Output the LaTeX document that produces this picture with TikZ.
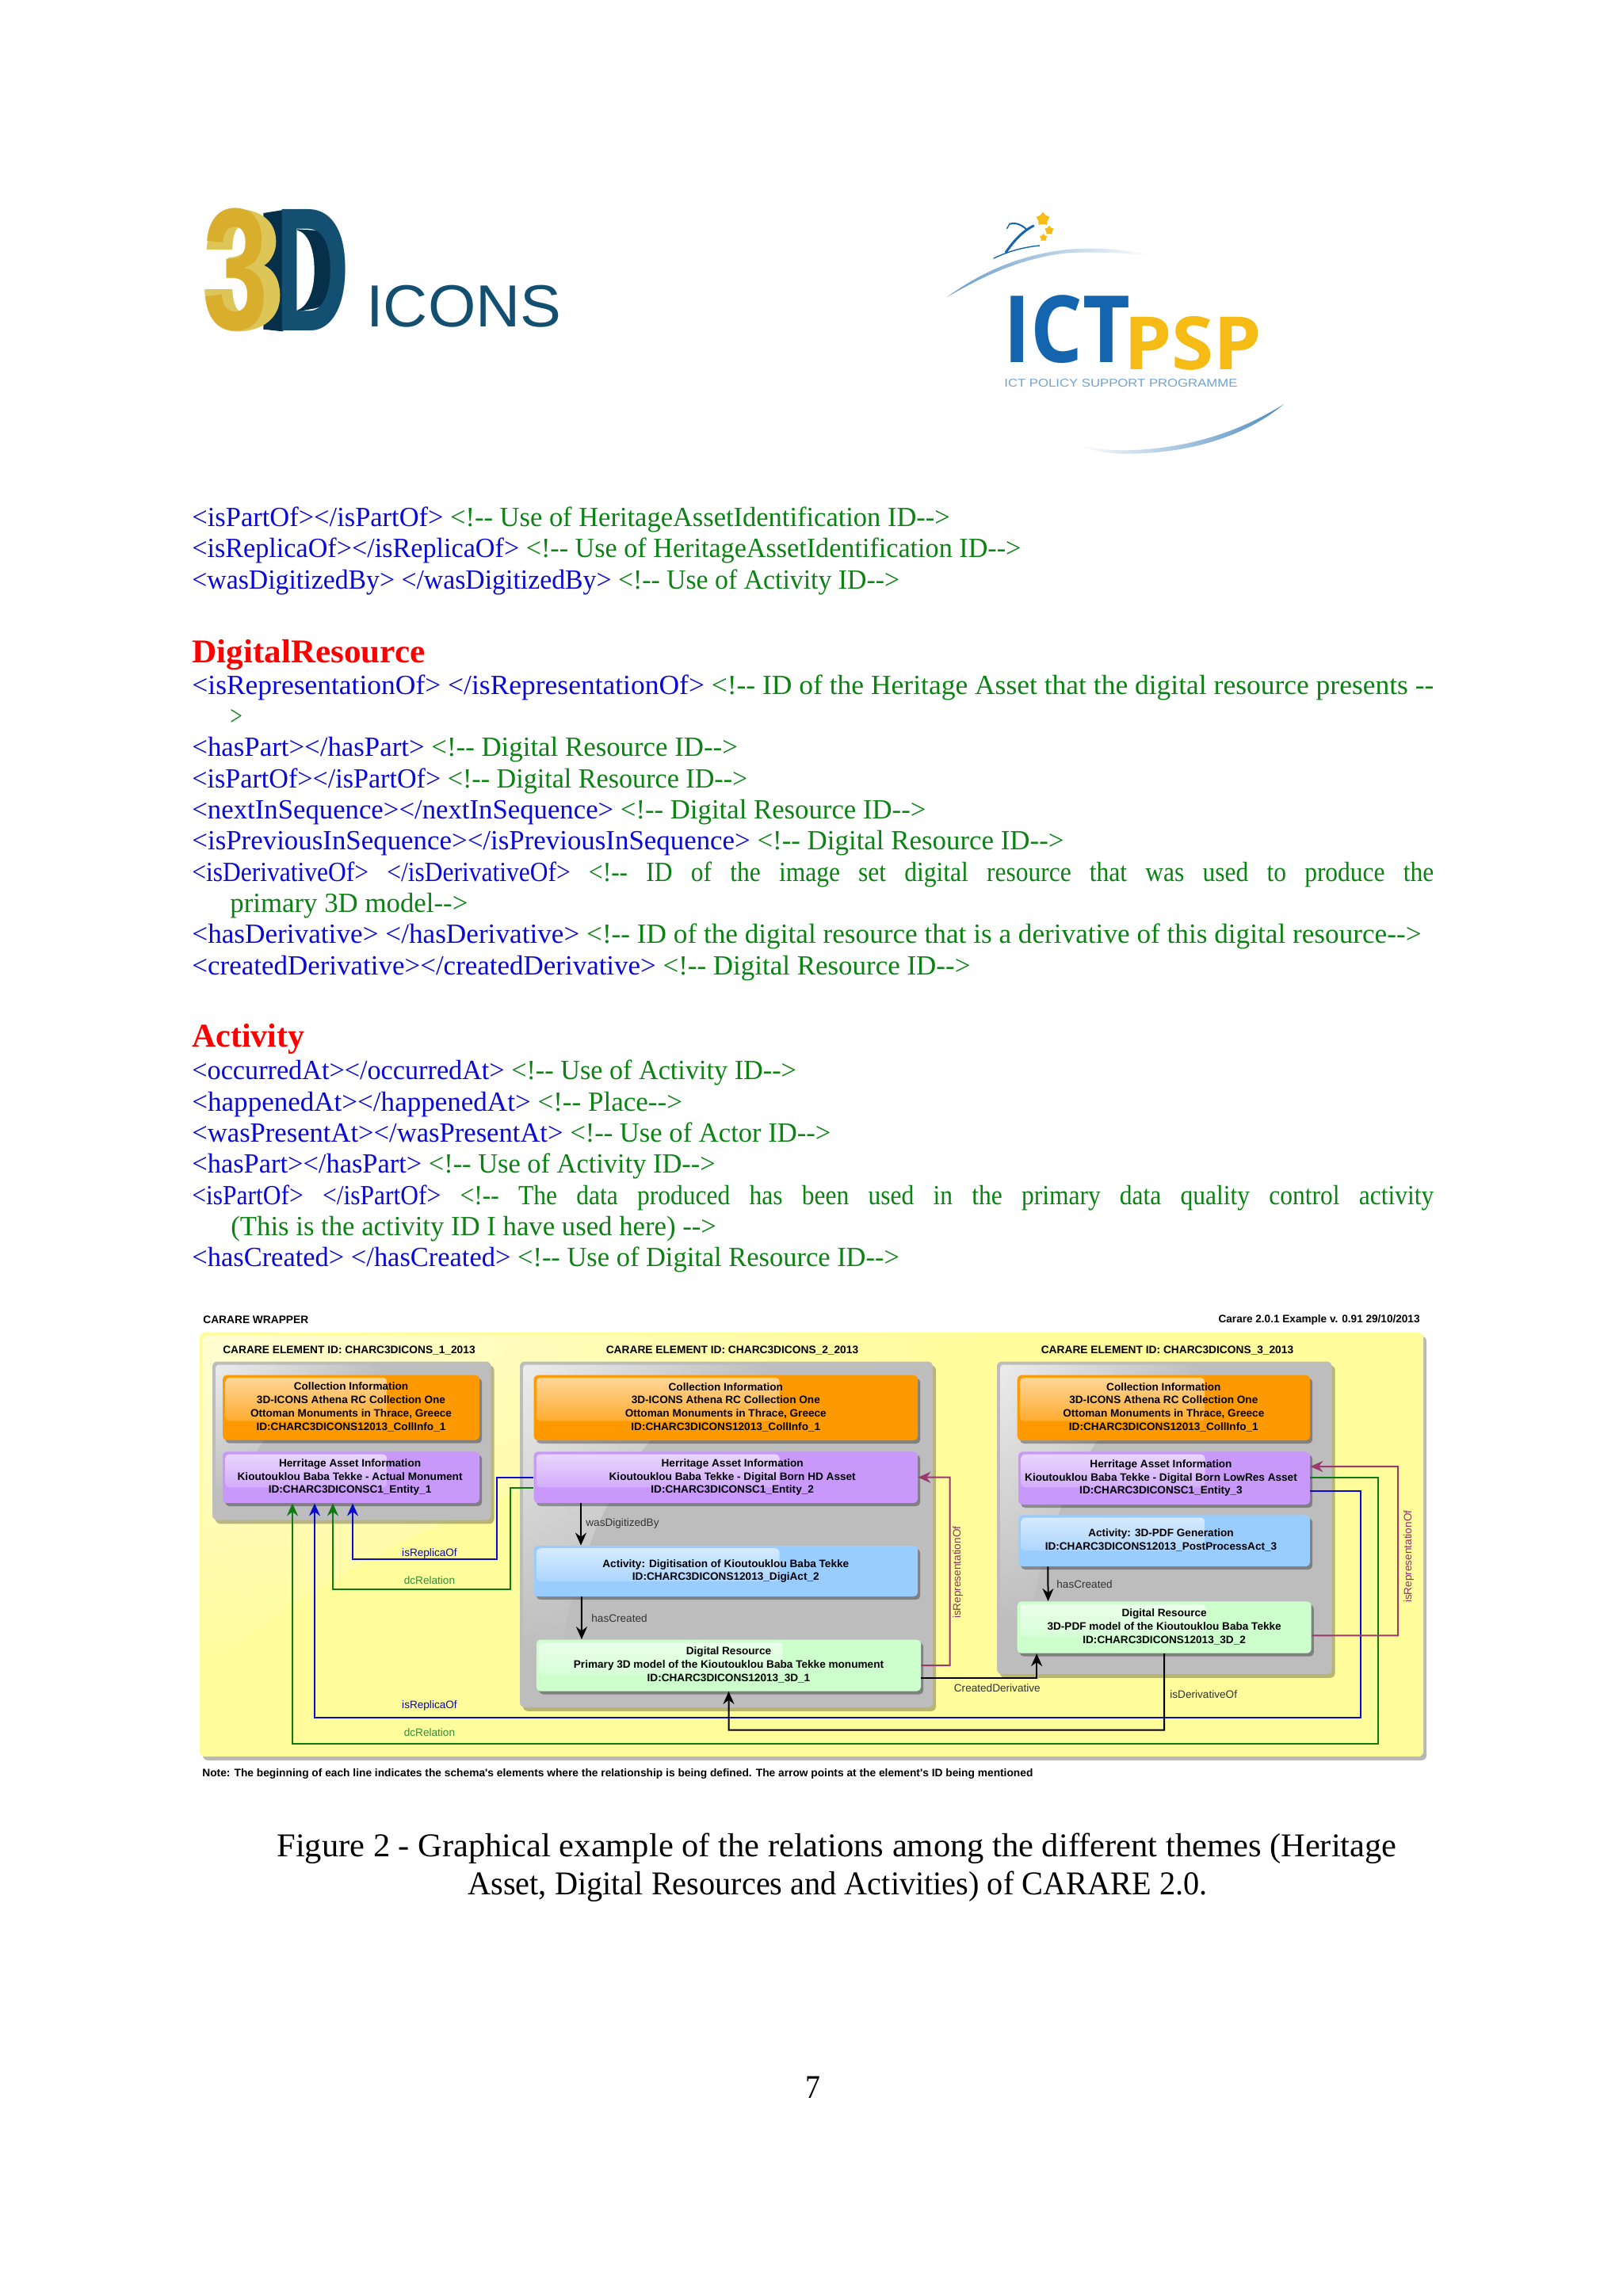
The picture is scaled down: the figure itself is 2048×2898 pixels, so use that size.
\documentclass[tikz,border=0pt]{standalone}
\usepackage{fontspec}
\usepackage{graphicx}
\usetikzlibrary{arrows.meta,calc,shadows,shapes.geometric,fadings}
\newfontfamily\lsans{Liberation Sans}
\newfontfamily\opensans{Open Sans}
\newfontfamily\bodyf[FakeStretch=0.9]{Liberation Serif}
\definecolor{txtblue}{HTML}{0A0AD2}
\definecolor{txtgreen}{HTML}{0C8214}
\definecolor{orangeb}{HTML}{FF9900}
\definecolor{purpleb}{HTML}{C899FA}
\definecolor{blueb}{HTML}{99CCFF}
\definecolor{greenb}{HTML}{CCFFCC}
\definecolor{grayb}{HTML}{BDBDBD}
\definecolor{yellowb}{HTML}{FFFC9C}
\definecolor{lineblue}{HTML}{0A0ACC}
\definecolor{linegreen}{HTML}{0F7A12}
\definecolor{linemaroon}{HTML}{993A6C}
\definecolor{gold3}{HTML}{D9AE2C}
\definecolor{lite3}{HTML}{DEC557}
\definecolor{dfront}{HTML}{134F70}
\definecolor{dback}{HTML}{06304A}
\definecolor{ictblue}{HTML}{1565AE}
\definecolor{pspyellow}{HTML}{F6BC15}
\newcommand{\bt}[1]{\textcolor{txtblue}{#1}}
\newcommand{\gt}[1]{\textcolor{txtgreen}{#1}}
\newcounter{tlc}
% baseline y, x0, x1, content
\newcommand{\tline}[4]{\stepcounter{tlc}\pgfmathparse{(#3-#2)*0.5}\edef\tw{\pgfmathresult pt}%
  \node[bodyline] (tl\arabic{tlc}) at (#2,#1) {\resizebox{\tw}{\height}{#4}};}
\newcommand{\jline}[4]{\stepcounter{tlc}\pgfmathparse{(#3-#2)*0.5}\edef\tw{\pgfmathresult pt}%
  \node[bodyline] (tl\arabic{tlc}) at (#2,#1) {\makebox[\tw][s]{#4}};}
\newcommand{\lines}[2]{\makebox[0pt]{\hspace*{#1}\begin{tabular}{@{}c@{}}#2\end{tabular}}}
% name x0 y0 x1 y1 colour highlight-height text-shift lines
\newcommand{\boxn}[9]{\node[card,fill=#6,minimum width={(#4-#2)*0.5},minimum height={(#5-#3)*0.5},
   gloss={#6}{#7}] (#1) at ({(#2+#4)/2},{(#3+#5)/2}) {\lines{#8}{#9}};}
\newcommand{\grayn}[5]{\node[panel,fill=grayb,minimum width={(#4-#2)*0.5},minimum height={(#5-#3)*0.5}] (#1) at ({(#2+#4)/2},{(#3+#5)/2}) {};
  \shade[left color=white!72!grayb,right color=grayb,rounded corners=2pt,path fading=south]
    ({#2+4},{#3+4}) -- ({#2+0.63*(#4-#2)},{#3+4}) -- ({#2+0.63*(#4-#2)},{#3+14})
    .. controls ({#2+0.32*(#4-#2)},{#3+28}) and ({#2+0.16*(#4-#2)},{#3+0.45*(#5-#3)}) .. ({#2+0.1*(#4-#2)},{#3+0.82*(#5-#3)})
    -- ({#2+4},{#3+0.86*(#5-#3)}) -- cycle;}
\tikzset{
  x=0.5pt,y=-0.5pt,
  bodyline/.style={inner sep=0pt,anchor=base west,yshift=-0.5pt,font=\bodyf\fontsize{17.5}{21}\selectfont},
  card/.style={rectangle,rounded corners=2.5pt,inner sep=0pt,font=\lsans\bfseries\fontsize{6.8}{8.35}\selectfont,text=black,
    drop shadow={shadow xshift=1.6pt,shadow yshift=-2pt,opacity=.32,fill=black}},
  panel/.style={rectangle,rounded corners=3pt,inner sep=0pt,
    drop shadow={shadow xshift=2pt,shadow yshift=-2.4pt,opacity=.28,fill=black}},
  gloss/.style n args={2}{path picture={
    \shade[top color=white!62!#1,bottom color=#1,rounded corners=2.5pt]
      ([xshift=1.6pt,yshift=-1.6pt]path picture bounding box.north west) rectangle
      ($(path picture bounding box.north west)!0.64!(path picture bounding box.north east)+(0,#2)$);}},
  headtxt/.style={inner sep=0pt,font=\lsans\bfseries\fontsize{6.87}{8}\selectfont,text=black},
  rel/.style={inner sep=0pt,font=\lsans\fontsize{6.8}{8}\selectfont},
  conn/.style={line width=1pt,-{Stealth[length=8pt,width=7pt]}},
  blk/.style={conn,black},
  bluec/.style={conn,lineblue},
  greenc/.style={conn,linegreen},
  maroonc/.style={conn,linemaroon},
}
\begin{document}
\begin{tikzpicture}
\useasboundingbox (0,0) rectangle (2048,2898);
\fill[white] (0,0) rectangle (2048,2898);

% ---- 3D ICONS logo
\begin{scope}[shift={(240,250)},x=0.16667pt,y=-0.16667pt]
  \fill[dback] (277,57) -- (352,45) -- (352,505) -- (277,497) -- cycle;
  \fill[dback] (405,118) -- (470,122) .. controls (530,130) and (555,190) .. (555,270) .. controls (555,350) and (530,405) .. (470,418) -- (405,430) -- cycle;
  \fill[white] (405,122) .. controls (445,132) and (470,190) .. (470,275) .. controls (470,350) and (445,410) .. (405,425) -- cycle;
  \fill[lite3] (62,195) .. controls (70,90) and (110,42) .. (175,42) .. controls (270,42) and (325,90) .. (325,165)
     .. controls (325,205) and (305,240) .. (280,255) .. controls (315,270) and (340,310) .. (340,370)
     .. controls (340,450) and (280,505) .. (175,505) .. controls (100,505) and (55,440) .. (55,345) -- (160,345)
     .. controls (160,400) and (180,435) .. (200,435) .. controls (220,435) and (235,410) .. (235,375)
     .. controls (235,320) and (200,295) .. (145,295) -- (145,225) .. controls (190,225) and (220,200) .. (220,165)
     .. controls (220,130) and (205,110) .. (190,110) .. controls (170,110) and (160,150) .. (160,195) -- cycle;
  \node[inner sep=0pt,anchor=south west,text=gold3] (three) at (48,506) {\resizebox*{41pt}{77.5pt}{\lsans\bfseries 3}};
  \node[inner sep=0pt,anchor=south west,text=dfront] (dee) at (321,505) {\resizebox*{47pt}{76.5pt}{\lsans\bfseries D}};
\end{scope}
\node[inner sep=0pt,anchor=base west,text=dfront,font=\lsans\fontsize{37.5}{40}\selectfont] (icons) at (462,412) {\resizebox{123pt}{\height}{ICONS}};

% ---- ICT PSP logo
\begin{scope}[shift={(1180,260)},x=0.16667pt,y=-0.16667pt]
  \shade[left color=ictblue!65!white,middle color=ictblue,right color=white] (45,345) .. controls (150,268) and (300,186) .. (500,165) .. controls (620,155) and (720,165) .. (820,188)
     .. controls (700,178) and (620,172) .. (500,178) .. controls (320,197) and (170,272) .. cycle;
  \shade[left color=white,middle color=ictblue,right color=ictblue!75!white] (1320,750) .. controls (1200,852) and (1000,938) .. (720,938) .. controls (650,938) and (590,926) .. (540,905)
     .. controls (600,920) and (660,925) .. (720,925) .. controls (1000,920) and (1200,826) .. cycle;
  \draw[ictblue,line width=.7pt,line cap=round] (222,198) .. controls (280,170) and (340,155) .. (395,150);
  \draw[ictblue,line width=1.5pt,line cap=round] (372,75) .. controls (340,92) and (310,115) .. (268,175);
  \draw[ictblue,line width=1pt,line cap=round] (345,88) .. controls (325,68) and (300,62) .. (282,68);
  \draw[ictblue,line width=.7pt,line cap=round] (282,68) -- (272,85);
  \node[star,star points=5,fill=pspyellow,inner sep=0pt,minimum size=9pt,draw=none] (st1) at (408,50) {};
  \node[star,star points=5,fill=pspyellow,inner sep=0pt,minimum size=6pt,draw=none] (st2) at (432,92) {};
  \node[star,star points=5,fill=pspyellow,inner sep=0pt,minimum size=5pt,draw=none] (st3) at (410,120) {};
\end{scope}
\node[inner sep=0pt,anchor=south west,text=ictblue] (ict) at (1266,459.5) {\resizebox*{80pt}{43pt}{\opensans\bfseries ICT}};
\node[inner sep=0pt,anchor=south west,text=pspyellow] (psp) at (1418,467.5) {\resizebox*{87pt}{34pt}{\opensans\bfseries PSP}};
\node[inner sep=0pt,anchor=base west,text=ictblue!60!white] (ictsub) at (1267,488) {\resizebox{147pt}{5pt}{\lsans ICT POLICY SUPPORT PROGRAMME}};

% ---- body text
\tline{663}{242}{1198.4}{\bt{<isPartOf></isPartOf>} \gt{<!-- Use of HeritageAssetIdentification ID-->}}
\tline{702.5}{242}{1288}{\bt{<isReplicaOf></isReplicaOf>} \gt{<!-- Use of HeritageAssetIdentification ID-->}}
\tline{742}{242}{1134.6}{\bt{<wasDigitizedBy> </wasDigitizedBy>} \gt{<!-- Use of Activity ID-->}}
\node[inner sep=0pt,anchor=base west,text=red,font=\bodyf\bfseries\fontsize{21}{24}\selectfont] (hdigital) at (242,836) {\resizebox{147pt}{\height}{DigitalResource}};
\tline{875}{242}{1809}{\bt{<isRepresentationOf> </isRepresentationOf>} \gt{<!-- ID of the Heritage Asset that the digital resource presents --}}
\tline{914}{290}{305.5}{\gt{>}}
\tline{953.5}{242}{930.5}{\bt{<hasPart></hasPart>} \gt{<!-- Digital Resource ID-->}}
\tline{993}{242}{943}{\bt{<isPartOf></isPartOf>} \gt{<!-- Digital Resource ID-->}}
\tline{1032}{242}{1168}{\bt{<nextInSequence></nextInSequence>} \gt{<!-- Digital Resource ID-->}}
\tline{1071.5}{242}{1342}{\bt{<isPreviousInSequence></isPreviousInSequence>} \gt{<!-- Digital Resource ID-->}}
\jline{1111}{242}{1809}{\bt{<isDerivativeOf>} \bt{</isDerivativeOf>} \gt{<!--} \gt{ID} \gt{of} \gt{the} \gt{image} \gt{set} \gt{digital} \gt{resource} \gt{that} \gt{was} \gt{used} \gt{to} \gt{produce} \gt{the}}
\tline{1150.5}{290}{590}{\gt{primary 3D model-->}}
\tline{1189.5}{242}{1793}{\bt{<hasDerivative> </hasDerivative>} \gt{<!-- ID of the digital resource that is a derivative of this digital resource-->}}
\tline{1229}{242}{1224}{\bt{<createdDerivative></createdDerivative>} \gt{<!-- Digital Resource ID-->}}
\node[inner sep=0pt,anchor=base west,text=red,font=\bodyf\bfseries\fontsize{21}{24}\selectfont] (hactivity) at (242,1321.7) {\resizebox{71pt}{\height}{Activity}};
\tline{1361.7}{242}{1004.5}{\bt{<occurredAt></occurredAt>} \gt{<!-- Use of Activity ID-->}}
\tline{1401}{242}{860.6}{\bt{<happenedAt></happenedAt>} \gt{<!-- Place-->}}
\tline{1440.3}{242}{1048}{\bt{<wasPresentAt></wasPresentAt>} \gt{<!-- Use of Actor ID-->}}
\tline{1479.6}{242}{902.4}{\bt{<hasPart></hasPart>} \gt{<!-- Use of Activity ID-->}}
\jline{1519}{242}{1809}{\bt{<isPartOf>} \bt{</isPartOf>} \gt{<!--} \gt{The} \gt{data} \gt{produced} \gt{has} \gt{been} \gt{used} \gt{in} \gt{the} \gt{primary} \gt{data} \gt{quality} \gt{control} \gt{activity}}
\tline{1558.3}{291}{903.5}{\gt{(This is the activity ID I have used here) -->}}
\tline{1597.7}{242}{1134.6}{\bt{<hasCreated> </hasCreated>} \gt{<!-- Use of Digital Resource ID-->}}

% ---- diagram
\node[headtxt,anchor=west] (wrap) at (256,1666) {CARARE WRAPPER};
\node[headtxt,anchor=east] (ver) at (1792,1666) {\resizebox{127pt}{\height}{Carare 2.0.1 Example v. 0.91 29/10/2013}};
\node[panel,fill=yellowb,minimum width={(1796-252)*0.5},minimum height={(2217-1682)*0.5}] (wrapper) at ({(252+1796)/2},{(1682+2217)/2}) {};
\shade[left color=yellowb!45!white,right color=yellowb,rounded corners=3pt,path fading=south] (256,1686) -- (1250,1686) .. controls (900,1790) and (500,1900) .. (256,2110) -- cycle;
\node[headtxt] (t1) at (440.5,1705) {CARARE ELEMENT ID: CHARC3DICONS\_1\_2013};
\node[headtxt] (t2) at (924,1705) {CARARE ELEMENT ID: CHARC3DICONS\_2\_2013};
\node[headtxt] (t3) at (1473,1705) {CARARE ELEMENT ID: CHARC3DICONS\_3\_2013};

\grayn{e1}{268}{1718.6}{619.5}{1918.6}
\grayn{e2}{656}{1718.6}{1177}{2155}
\grayn{e3}{1258}{1718.6}{1680.6}{2113}

\boxn{o1}{281}{1735.7}{605}{1817.5}{orangeb}{58}{0pt}{Collection Information\\3D-ICONS Athena RC Collection One\\Ottoman Monuments in Thrace, Greece\\ID:CHARC3DICONS12013\_CollInfo\_1}
\boxn{p1}{281}{1832.4}{605}{1897}{purpleb}{45}{-1.4pt}{Herritage Asset Information\\Kioutouklou Baba Tekke - Actual Monument\\ID:CHARC3DICONSC1\_Entity\_1}
\boxn{o2}{673.6}{1735.7}{1158}{1818}{orangeb}{58}{0pt}{Collection Information\\3D-ICONS Athena RC Collection One\\Ottoman Monuments in Thrace, Greece\\ID:CHARC3DICONS12013\_CollInfo\_1}
\boxn{p2}{673.6}{1832.4}{1158}{1897}{purpleb}{45}{8.4pt}{Herritage Asset Information\\Kioutouklou Baba Tekke - Digital Born HD Asset\\ID:CHARC3DICONSC1\_Entity\_2}
\boxn{b2}{673.6}{1951}{1158}{2015}{blueb}{45}{0pt}{Activity: Digitisation of Kioutouklou Baba Tekke\\ID:CHARC3DICONS12013\_DigiAct\_2}
\boxn{g2}{677}{2069.6}{1162}{2134.5}{greenb}{45}{0pt}{Digital Resource\\Primary 3D model of the Kioutouklou Baba Tekke monument\\ID:CHARC3DICONS12013\_3D\_1}
\boxn{o3}{1283.7}{1735.7}{1653}{1818}{orangeb}{58}{0pt}{Collection Information\\3D-ICONS Athena RC Collection One\\Ottoman Monuments in Thrace, Greece\\ID:CHARC3DICONS12013\_CollInfo\_1}
\boxn{p3}{1285}{1832.4}{1653}{1899}{purpleb}{45}{-4pt}{Herritage Asset Information\\Kioutouklou Baba Tekke - Digital Born LowRes Asset\\ID:CHARC3DICONSC1\_Entity\_3}
\boxn{b3}{1285}{1912.4}{1653}{1977}{blueb}{45}{-4pt}{Activity: 3D-PDF Generation\\ID:CHARC3DICONS12013\_PostProcessAct\_3}
\boxn{g3}{1283.7}{2021.4}{1654.6}{2086.7}{greenb}{45}{0pt}{Digital Resource\\3D-PDF model of the Kioutouklou Baba Tekke\\ID:CHARC3DICONS12013\_3D\_2}

\draw[bluec] (p2.west) -| (627,1968.4) -| ([xshift=1pt]p1.south);
\draw[greenc] ([yshift=-6.65pt]p2.west) -| (643.6,2006.3) -| ([xshift=-11.5pt]p1.south);
\draw[bluec] ([yshift=-8pt]p3.east) -| (1717.4,2167.6) -| ([xshift=-23pt]p1.south);
\draw[greenc] ([yshift=.35pt]p3.east) -| (1739,2200.6) -| ([xshift=-37pt]p1.south);
\draw[maroonc] (g2.east) -- (1198.7,2102) |- (p2.east);
\draw[maroonc] ([yshift=-5.15pt]g3.east) -- (1764,2064.3) |- ([yshift=7.35pt]p3.east);
\draw[blk] ([yshift=-7.9pt]g2.east) -| ([xshift=-80.5pt]g3.south);
\draw[blk] (g3.south) -- (1469,2183.5) -| (g2.south);
\draw[blk] ([xshift=-91.4pt]p2.south) -- ([xshift=-91.4pt]b2.north);
\draw[blk] ([xshift=-91pt]b2.south) -- ([xshift=-92.75pt]g2.north);
\draw[blk] ([xshift=-73.3pt]b3.south) -- ([xshift=-73.3pt]g3.north);

\node[rel,text=lineblue!85!black] (l1) at (542,1961) {isReplicaOf};
\node[rel,text=linegreen!85!white] (l2) at (542,1995) {dcRelation};
\node[rel,text=lineblue!85!black] (l3) at (542,2153) {isReplicaOf};
\node[rel,text=linegreen!85!white] (l4) at (542,2187) {dcRelation};
\node[rel,anchor=west,text=black!80] (l5) at (739,1922.7) {wasDigitizedBy};
\node[rel,anchor=west,text=black!80] (l6) at (746,2043) {hasCreated};
\node[rel,anchor=west,text=black!80] (l7) at (1333,2000) {hasCreated};
\node[rel,rotate=90,text=linemaroon!90!black] (l8) at (1208.6,1984.7) {isRepresentationOf};
\node[rel,rotate=90,text=linemaroon!90!black] (l9) at (1777.5,1964.7) {isRepresentationOf};
\node[rel,anchor=west,text=black!80] (l10) at (1203.5,2130.8) {CreatedDerivative};
\node[rel,anchor=west,text=black!80] (l11) at (1476,2138.6) {isDerivativeOf};
\node[headtxt,anchor=west] (note) at (255,2238.6) {\resizebox{524pt}{\height}{Note: The beginning of each line indicates the schema's elements where the relationship is being defined. The arrow points at the element's ID being mentioned}};

% ---- caption and page number
\tikzset{captxt/.style={inner sep=0pt,anchor=base west,text=black,font=\bodyf\fontsize{21}{24}\selectfont}}
\node[captxt] (cap1) at (349,2343.4) {\resizebox{706.5pt}{\height}{Figure 2 - Graphical example of the relations among the different themes (Heritage}};
\node[captxt] (cap2) at (590,2391.5) {\resizebox{466.5pt}{\height}{Asset, Digital Resources and Activities) of CARARE 2.0.}};
\node[captxt] (pagen) at (1016,2648) {7};
\end{tikzpicture}
\end{document}
